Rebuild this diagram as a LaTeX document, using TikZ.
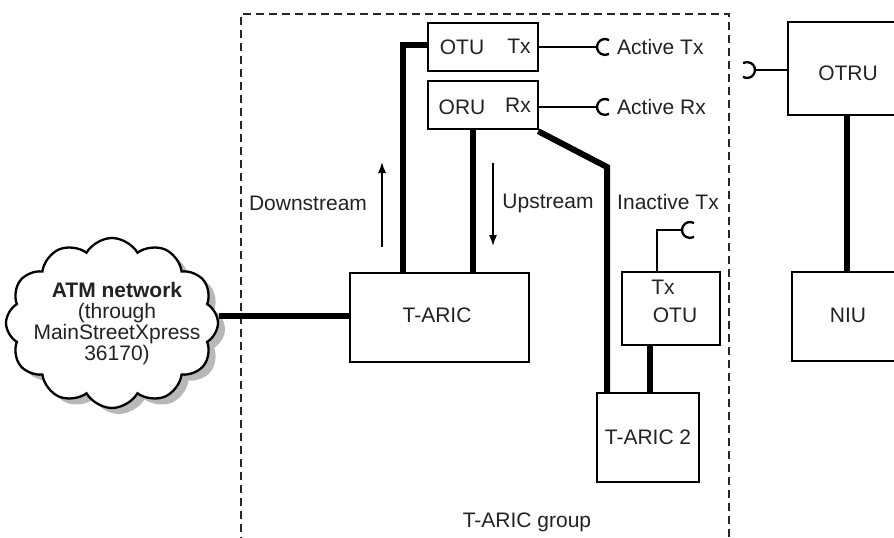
\documentclass[tikz,border=0pt]{standalone}
\usepackage{fontspec}
\setmainfont{Liberation Sans}
\usetikzlibrary{shapes.symbols,shadows,arrows.meta}
\definecolor{ink}{HTML}{222222}
\tikzset{
  box/.style={draw=black, line width=2.4pt, rectangle, inner sep=0pt},
  lbl/.style={text=ink, inner sep=0pt, font=\fontsize{21}{21}\selectfont},
  thin/.style={line width=2.3pt},
  thickc/.style={line width=6pt},
  grp/.style={draw=black!85, line width=2.8pt, dash pattern=on 8pt off 5pt},
  flow/.style={line width=1.4pt, -{Latex[length=11pt,width=8pt]}},
}
\begin{document}
\begin{tikzpicture}[x=1pt,y=-1pt]
\clip (0,0) rectangle (894,538);
% group boundary
\draw[grp] (241,545) -- (241,14) -- (729,14) -- (729,545);
\node[lbl] (grplbl) at (527,522) {T-ARIC group};

% cloud
\node[cloud, cloud puffs=12, cloud puff arc=120, draw, line width=2.3pt, fill=white,
      minimum width=212pt, minimum height=170pt,
      drop shadow={shadow xshift=7pt, shadow yshift=-6pt, fill=black!28, opacity=1}] (cloud) at (112,323) {};
\node[lbl, align=center, font=\fontsize{21}{21}\selectfont] (cloudtxt) at (117,324)
  {\textbf{ATM network}\\(through\\MainStreetXpress\\36170)};

% boxes
\node[box, minimum width=110pt, minimum height=48pt] (otu) at (483,47) {};
\node[lbl] (otulbl) at (462,47) {OTU};
\node[lbl] (otutx) at (519,46) {Tx};
\node[box, minimum width=110pt, minimum height=48pt] (oru) at (483,105) {};
\node[lbl] (orulbl) at (462,107) {ORU};
\node[lbl] (orurx) at (518,105) {Rx};
\node[box, minimum width=179pt, minimum height=89pt] (taric) at (439.5,317.5) {};
\node[lbl] (tariclbl) at (437,315) {T-ARIC};
\node[box, minimum width=98pt, minimum height=73pt] (otu2) at (671,308.5) {};
\node[lbl] (otu2tx) at (663,287) {Tx};
\node[lbl] (otu2lbl) at (675,315) {OTU};
\node[box, minimum width=102pt, minimum height=89pt] (taric2) at (648,437.5) {};
\node[lbl] (taric2lbl) at (648,437) {T-ARIC 2};
\node[box, minimum width=120pt, minimum height=93pt] (otru) at (848,68.5) {};
\node[lbl] (otrulbl) at (848,73) {OTRU};
\node[box, minimum width=112pt, minimum height=89pt] (niu) at (848,316.5) {};
\node[lbl] (niulbl) at (848,315) {NIU};

% text labels
\node[lbl, anchor=west] (acttx) at (617,47) {Active Tx};
\node[lbl, anchor=west] (actrx) at (617,107) {Active Rx};
\node[lbl] (inacttx) at (668,202) {Inactive Tx};
\node[lbl] (down) at (308,203) {Downstream};
\node[lbl] (up) at (548,203) {Upstream};

% thick connectors
\coordinate (d1) at (403,273);
\coordinate (u1) at (473,273);
\coordinate (bend) at (607,167);
\coordinate (t2a) at (607,393);
\coordinate (t2b) at (650,393);
\draw[thickc] (cloud.east |- 0,316) -- (taric.west |- 0,316);
\draw[thickc] ([yshift=2pt]otu.west) -| (d1);
\draw[thickc] (oru.south -| u1) -- (u1);
\draw[thickc, line join=miter] ([xshift=-1pt,yshift=-1pt]oru.south east) -- (bend) -- (t2a);
\draw[thickc] (otu2.south -| t2b) -- (t2b);
\draw[thickc] (otru.south -| 847,0) -- (niu.north -| 847,0);

% thin connectors with plugs
\coordinate (ptx) at (597,47);
\coordinate (prx) at (597,107);
\draw[thin] (otu.east) -- (ptx);
\draw[thin] (ptx) ++(12,-6.93) arc[start angle=60, end angle=300, radius=8pt];
\draw[thin] (oru.east |- prx) -- (prx);
\draw[thin] (prx) ++(12,-6.93) arc[start angle=60, end angle=300, radius=8pt];
\coordinate (pin) at (682,230);
\draw[thin] (otu2.north -| 657,0) |- (pin);
\draw[thin] (pin) ++(12,-6.93) arc[start angle=60, end angle=300, radius=8pt];
\coordinate (potru) at (755,70);
\draw[thin] (otru.west |- potru) -- (potru);
\draw[thin] (potru) ++(-12,6.93) arc[start angle=-120, end angle=120, radius=8pt];

% flow arrows
\draw[flow] (382,247) -- (382,162);
\draw[flow] (493,163) -- (493,246);
\end{tikzpicture}
\end{document}
